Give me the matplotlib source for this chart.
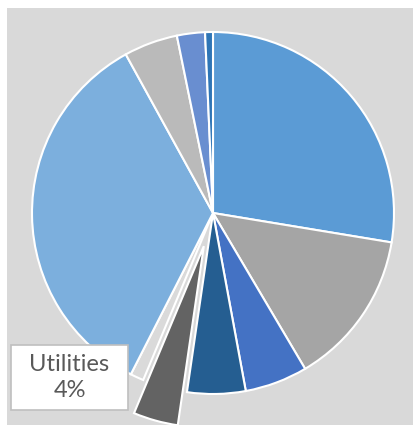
import matplotlib.pyplot as plt
from matplotlib.patches import Rectangle

# share of each slice, clockwise from 12 o'clock
shares = [27.6, 13.9, 5.6, 5.2, 4.0, 1.2, 34.5, 4.8, 2.5, 0.7]
colors = ["#5b9bd5", "#a5a5a5", "#4472c4", "#255e91", "#636363",
          "#dadada", "#7cafdd", "#bababa", "#698ed0", "#2e75b6"]
explode = [0, 0, 0, 0, 0.19, 0, 0, 0, 0, 0]

label_name = "Utilities"
label_idx = 4

W, H = 414, 425
R = 181.0           # pie radius in pixels
cx, cy = 213, 212   # pie centre in pixels (y up)

fig = plt.figure(figsize=(W / 100, H / 100), dpi=100)
fig.patch.set_facecolor("white")
# grey chart area, kept behind the axes
fig.patches.append(Rectangle((7 / W, 0), 1, (H - 8) / H, transform=fig.transFigure,
                             facecolor="#d9d9d9", edgecolor="none", zorder=-5))

ax = fig.add_axes([0, 0, 1, 1])
ax.pie(shares, colors=colors, explode=explode, startangle=90, counterclock=False,
       wedgeprops=dict(edgecolor="white", linewidth=1.5))
ax.set_xlim(-cx / R, (W - cx) / R)
ax.set_ylim(-cy / R, (H - cy) / R)
ax.set_aspect("equal")
ax.axis("off")

# data label box for the pulled-out slice
bx, by, bw, bh = 11, 15, 117, 65
ax.add_patch(Rectangle(((bx - cx) / R, (by - cy) / R), bw / R, bh / R,
                       facecolor="white", edgecolor="#bfbfbf", linewidth=1.2, zorder=5))
ax.text((bx + bw / 2 - cx) / R, (by + bh / 2 - cy) / R,
        f"{label_name}\n{shares[label_idx]:.0f}%",
        ha="center", va="center", fontsize=17, color="#595959",
        family="Lato", linespacing=1.3, zorder=6)

fig.savefig("out.png", dpi=100)
